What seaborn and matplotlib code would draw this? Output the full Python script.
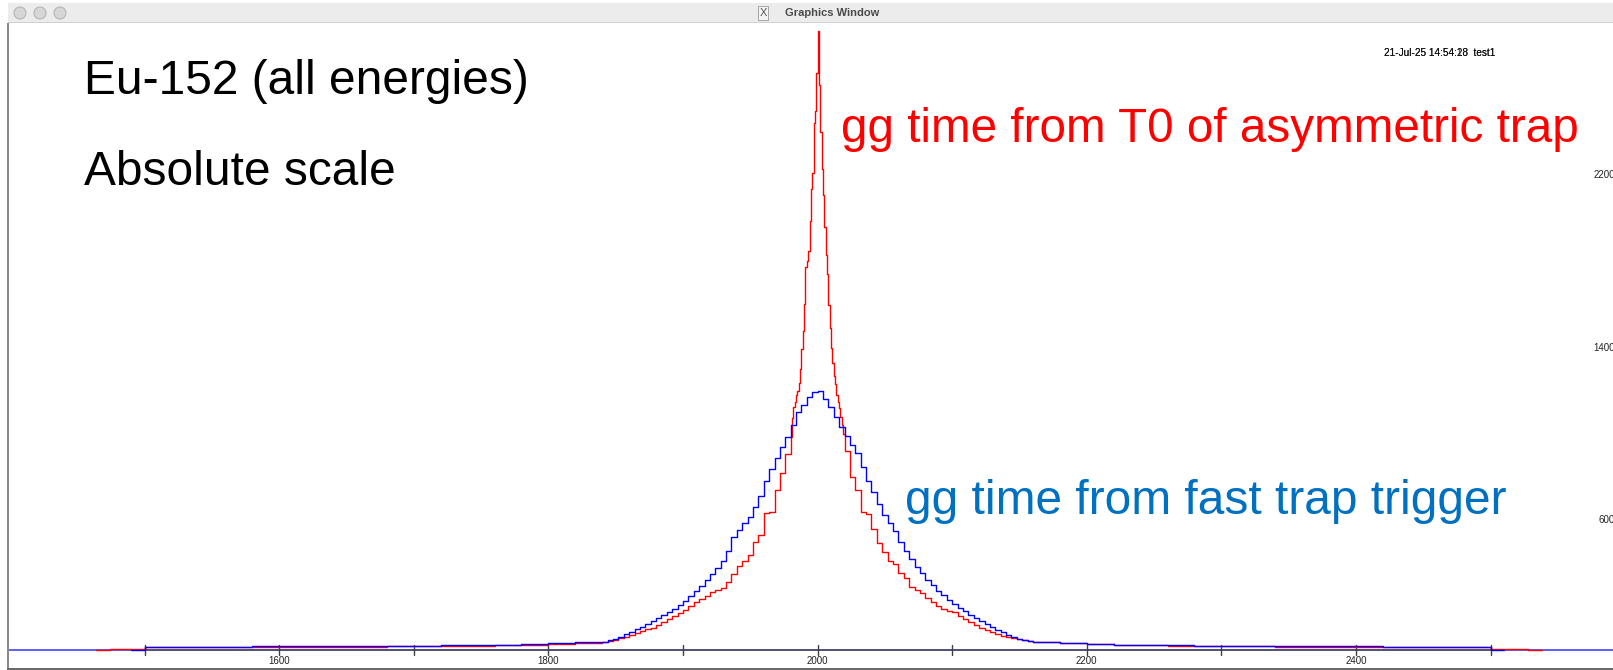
import numpy as np
import pandas as pd
import matplotlib
matplotlib.use("Agg")
import matplotlib.pyplot as plt
import seaborn as sns
from matplotlib.patches import Rectangle, Ellipse

# ---------------- data ----------------
# blue: "gg time from fast trap trigger"
blue_left_tail = [12, 12, 13, 13, 14, 14, 15, 15, 16, 17, 18, 19, 21, 23, 26, 30, 34]      # 1500-1840, 20 wide
blue_core = [37, 42, 50, 60, 72, 83, 95, 106, 118, 131, 145, 160, 175, 190, 205, 224,
             248, 272, 296, 322, 348, 376, 410, 455, 520, 555, 585, 615, 662, 710, 780, 835,
             890, 940, 985, 1040, 1100, 1135, 1170, 1195,
             1200, 1160, 1125, 1080, 1030, 990, 950, 912, 845, 782, 732, 676, 625, 585, 550, 498,
             458, 420, 384, 356, 324, 298, 273, 252, 230, 211, 193, 178, 162, 147, 132, 117,
             104, 92, 80, 68, 57, 49, 43, 39]                                               # 1840-2160, 4 wide
blue_right_tail = [35, 30, 26, 23, 21, 19, 18, 17, 16, 15, 15, 14, 14, 13, 13, 12, 12]    # 2160-2500, 20 wide

# red: "gg time from T0 of asymmetric trap"
red_low_edge = [4]                                                                          # 1474-1500
red_left_tail = [10, 10, 11, 11, 11, 12, 12, 13, 13, 14, 15, 16, 18, 20, 23, 27, 32]       # 1500-1840
red_core_left = [37, 41, 46, 52, 58, 66, 75, 84, 93, 102, 112, 126, 142, 157, 170, 182,
                 200, 220, 236, 250, 266, 278, 284, 315, 350, 385, 410, 440, 500, 530, 635,
                 638, 740, 820, 905]                                                        # 1840-1980, 4 wide
red_peak = [987, 1072, 1126, 1150, 1180, 1200, 1234, 1301, 1394, 1479, 1603, 1772, 1800,
            1849, 1988, 2135, 2212, 2440, 2500, 2672, 2870, 2620, 2400, 2230, 2110, 1960,
            1830, 1740, 1600, 1490, 1400, 1330, 1270, 1230, 1180, 1150, 1120, 1080, 1040, 1000]  # 1980-2020, 1 wide
red_core_right = [920, 800, 740, 640, 628, 560, 495, 450, 410, 395, 355, 330, 292, 275, 262,
                  240, 221, 200, 186, 180, 172, 155, 140, 128, 115, 100, 90, 80, 70, 64, 58,
                  53, 48, 43, 40]                                                           # 2020-2160, 4 wide
red_right_tail = [36, 31, 27, 23, 20, 18, 16, 15, 14, 13, 12, 12, 11, 11, 10, 10, 10]      # 2160-2500
red_high_edge = [4]                                                                         # 2500-2528

x_ticks = [1500, 1600, 1700, 1800, 1900, 2000, 2100, 2200, 2300, 2400, 2500]
x_labels = [1600, 1800, 2000, 2200, 2400]
y_labels = [600, 1400, 2200]

title_main = "Eu-152 (all energies)"
title_sub = "Absolute scale"
label_red = "gg time from T0 of asymmetric trap"
label_blue = "gg time from fast trap trigger"
stamp_a = "21-Jul-25 14:54:18  test1"
stamp_b = "21-Jul-25 14:54:28  test1"

# bin edges
blue_edges = np.concatenate([[1490], np.arange(1500, 1840, 20), np.arange(1840, 2160, 4),
                             np.arange(2160, 2501, 20), [2510]]).astype(float)
blue_vals = np.array([0] + blue_left_tail + blue_core + blue_right_tail + [0], float)

red_edges = np.concatenate([[1464, 1474], np.arange(1500, 1840, 20), np.arange(1840, 1980, 4),
                            np.arange(1980, 2020, 1), np.arange(2020, 2160, 4),
                            np.arange(2160, 2501, 20), [2528, 2538]]).astype(float)
red_vals = np.array([0] + red_low_edge + red_left_tail + red_core_left + red_peak +
                    red_core_right + red_right_tail + red_high_edge + [0], float)

blue_df = pd.DataFrame({"t": (blue_edges[:-1] + blue_edges[1:]) / 2, "counts": blue_vals})
red_df = pd.DataFrame({"t": (red_edges[:-1] + red_edges[1:]) / 2, "counts": red_vals})

# ---------------- figure ----------------
W, H = 1613, 670
sns.set_style("white")
plt.rcParams["font.family"] = ["Liberation Sans", "DejaVu Sans"]

fig = plt.figure(figsize=(W / 100, H / 100), dpi=100)
fig.patch.set_facecolor("white")
ax = fig.add_axes([0, 0, 1, 1])
ax.set_facecolor("white")

X2000, PXU = 817.6, 1.346
Y0, PXC = 649.5, 0.2156
def xv(X): return 2000 + (X - X2000) / PXU
def yc(Y): return (Y0 - Y) / PXC

# zero line spanning the window
ax.plot([xv(8), xv(W + 5)], [0, 0], color="#3030ff", lw=1.1, zorder=1, solid_capstyle="butt")
# x axis line
ax.plot([1500, 2500], [0, 0], color="#505050", lw=1.1, zorder=2)
for t in x_ticks:
    ax.plot([t, t], [yc(645), yc(654.5)], color="#404040", lw=1.0, zorder=2)
for t in x_labels:
    ax.text(t, yc(660.5), str(t), ha="center", va="center", fontsize=7.0, color="#222222")

# histograms
sns.histplot(data=red_df, x="t", weights="counts", bins=list(red_edges),
             element="step", fill=False, color="#ff0000", lw=1.0, ax=ax, zorder=3)
sns.histplot(data=blue_df, x="t", weights="counts", bins=list(blue_edges),
             element="step", fill=False, color="#0000ff", lw=1.0, ax=ax, zorder=4)

ax.set_xlim(xv(0), xv(W))
ax.set_ylim(yc(H), yc(0))
ax.axis("off")

for c in y_labels:
    ax.text(xv(1615), c, str(c), ha="right", va="center", fontsize=7.0, color="#222222", clip_on=False)

# big annotations
def ftext(X, Y, s, **kw):
    fig.text(X / W, 1 - Y / H, s, **kw)

ftext(84, 94, title_main, fontsize=34.5, color="black", va="baseline", ha="left")
ftext(84, 185, title_sub, fontsize=34.5, color="black", va="baseline", ha="left")
ftext(841, 142, label_red, fontsize=34.3, color="#ff0000", va="baseline", ha="left")
ftext(905, 514, label_blue, fontsize=34.5, color="#0070c0", va="baseline", ha="left")
ftext(1384, 53, stamp_a, fontsize=7.2, color="#111111", va="center", ha="left")
ftext(1384, 53, stamp_b, fontsize=7.2, color="#111111", va="center", ha="left")

# window frame
fig.add_artist(Rectangle((8 / W, 1 - 23 / H), (W - 8) / W, 20 / H, transform=fig.transFigure,
                         facecolor="#ececec", edgecolor="none", zorder=10))
fig.add_artist(Rectangle((8 / W, 1 - 23 / H), (W - 8) / W, 1 / H, transform=fig.transFigure,
                         facecolor="#d0d0d0", edgecolor="none", zorder=11))
for cx in [20, 40, 60]:
    fig.add_artist(Ellipse((cx / W, 1 - 13 / H), 12 / W, 12 / H, transform=fig.transFigure,
                           facecolor="#d6d6d6", edgecolor="#b5b5b5", lw=0.8, zorder=12))
ftext(763, 13, "X", fontsize=8, color="#555555", va="center", ha="center", zorder=12,
      bbox=dict(boxstyle="square,pad=0.15", fc="#f4f4f4", ec="#999999", lw=0.6))
ftext(832, 13, "Graphics Window", fontsize=8, fontweight="bold", color="#4a4a4a",
      va="center", ha="center", zorder=12)
# left and bottom border
fig.add_artist(Rectangle((7 / W, 1 - 669 / H), 1.5 / W, 646 / H, transform=fig.transFigure,
                         facecolor="#8a8a8a", edgecolor="none", zorder=9))
fig.add_artist(Rectangle((7 / W, 1 - 670 / H), (W - 7) / W, 2.5 / H, transform=fig.transFigure,
                         facecolor="#6a6a6a", edgecolor="none", zorder=9))

fig.savefig("out.png", dpi=100, facecolor="white")
